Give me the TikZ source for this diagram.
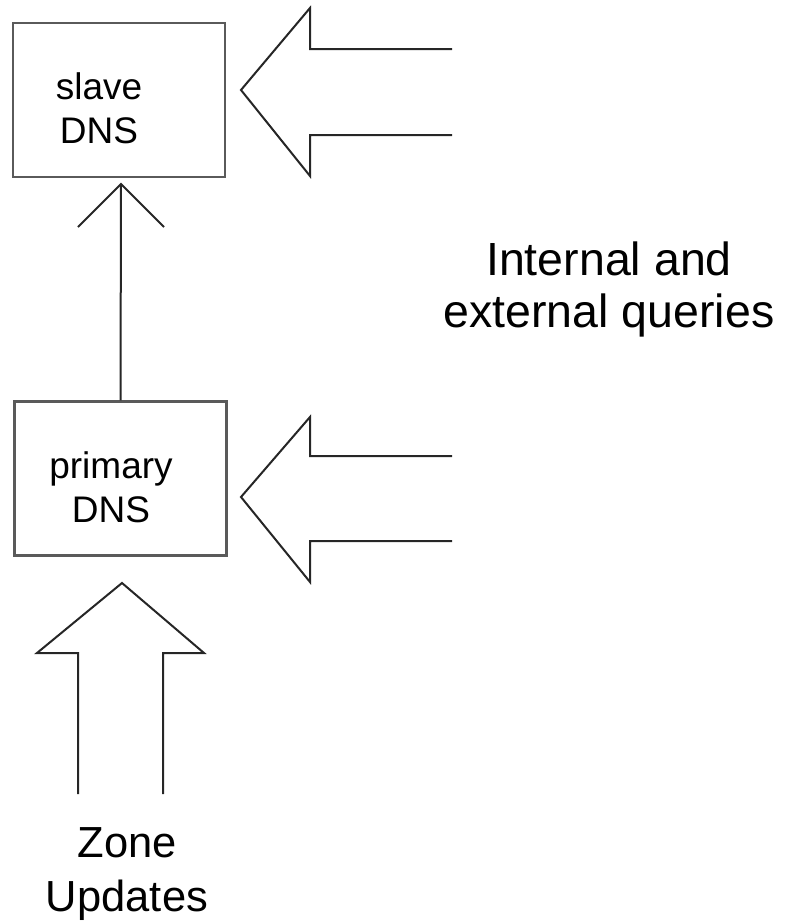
\documentclass[tikz,border=0pt]{standalone}
\usepackage{fontspec}
\setmainfont{Liberation Sans}
\definecolor{boxgray}{HTML}{5A5A5A}
\definecolor{arrowblack}{HTML}{262626}
\tikzset{
  box/.style={draw=boxgray, line width=2.5pt, minimum width=212pt, minimum height=154pt, inner sep=0pt},
  hollow/.style={draw=arrowblack, line width=2pt, line join=miter},
  boxtext/.style={font=\fontsize{37}{44}\selectfont, align=center, anchor=base, inner sep=0pt},
  bigtext/.style={font=\fontsize{46.5}{52}\selectfont, align=center, anchor=base, inner sep=0pt},
  zonetext/.style={font=\fontsize{43.5}{54}\selectfont, align=center, anchor=base, inner sep=0pt},
}
\begin{document}
\begin{tikzpicture}[x=1pt,y=-1pt]
\useasboundingbox (0,0) rectangle (786,924);
% boxes
\node[box] (slave) at (119,100) {};
\node[boxtext] (slavetext) at (99,143) {slave\\DNS};
\node[box] (primary) at (120.5,478.5) {};
\node[boxtext] (primarytext) at (111,522) {primary\\DNS};
% primary -> slave
\coordinate (sliptip) at (121,184);
\draw[hollow] (primary.north) -- (sliptip);
\draw[hollow] (sliptip) ++(-43,43) -- (sliptip) -- ++(43,43);
% hollow query arrows
\draw[hollow] (452,49) -- (310,49) -- (310,8) -- (241,90) -- (310,176) -- (310,135) -- (452,135);
\draw[hollow] (452,456) -- (310,456) -- (310,417) -- (241,497) -- (310,582) -- (310,541) -- (452,541);
% zone update arrow
\draw[hollow] (78,794) -- (78,653) -- (37,653) -- (122,583) -- (204,653) -- (163,653) -- (163,794);
% labels
\node[bigtext] (queries) at (609,327) {Internal and\\external queries};
\node[zonetext] (zone) at (127,911) {Zone\\Updates};
\end{tikzpicture}
\end{document}
